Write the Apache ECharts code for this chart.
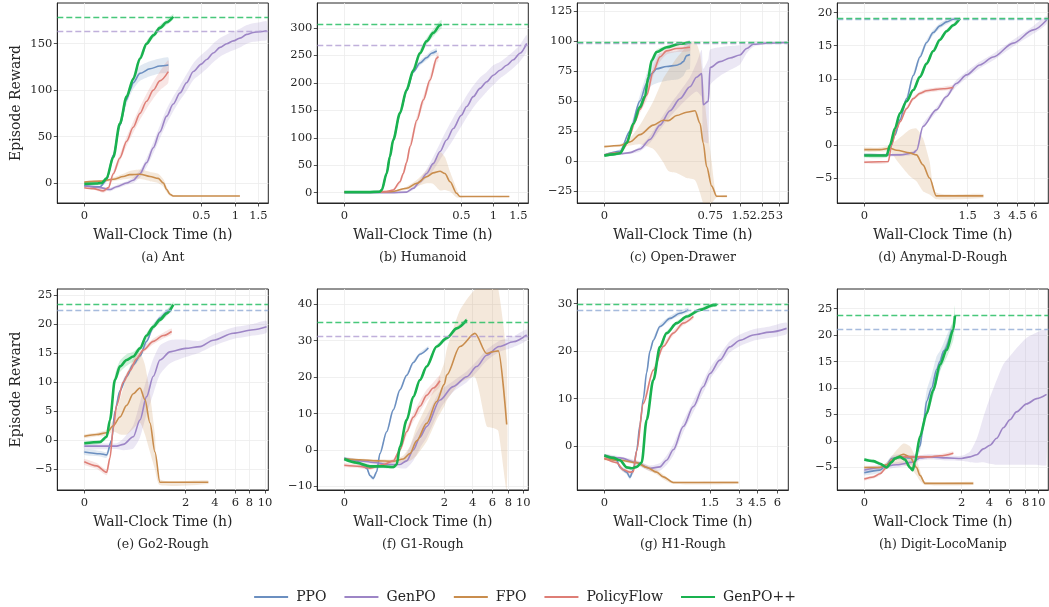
<!DOCTYPE html>
<html><head><meta charset="utf-8">
<script src="https://cdn.jsdelivr.net/npm/echarts@6/dist/echarts.min.js"></script>
<style>html,body{margin:0;padding:0;background:#fff}#c{width:1049px;height:607px}</style>
</head><body><div id="c"></div><script>
// ---------- DATA: [hours, mean reward, band half-width (upper), optional lower half-width] ----------
const methods = ['PPO','GenPO','FPO','PolicyFlow','GenPO++'];
const panelTitles = ['(a) Ant','(b) Humanoid','(c) Open-Drawer','(d) Anymal-D-Rough','(e) Go2-Rough','(f) G1-Rough','(g) H1-Rough','(h) Digit-LocoManip'];

// (a) Ant
const ant_ppo = [[0,-3,1],[0.067,-4,1],[0.095,3,2],[0.124,30,3],[0.152,62,4],[0.181,90,5],[0.195,100,6],[0.209,108,7],[0.238,118,8],[0.281,123,8],[0.323,126,8],[0.359,127,8]];
const ant_genpo = [[0,-3,1],[0.067,-5,1],[0.11,-7,2],[0.138,-4,2],[0.181,0,2],[0.209,3,3],[0.238,10,4],[0.266,22,5],[0.295,38,6],[0.323,55,7],[0.352,72,8],[0.38,85,8],[0.409,97,8],[0.437,108,9],[0.466,120,9],[0.5,128,10],[0.579,133,10],[0.676,140,10],[0.775,146,10],[0.874,150,10],[0.971,153,10],[1.102,156,10],[1.248,160,10],[1.391,162,10],[1.537,163,10],[1.683,164,10]];
const ant_fpo = [[0,1,1],[0.067,2,1],[0.124,4,2],[0.167,7,3],[0.195,9,4],[0.238,9.5,5],[0.281,7,5],[0.316,5,5],[0.338,0,4],[0.352,-7,3],[0.366,-12,2],[0.38,-14,1],[0.5,-14,0.5],[1.1,-14,0.5]];
const ant_pf = [[0,-5,1],[0.038,-6,1],[0.081,-8.5,2],[0.103,-5,2],[0.124,10,3],[0.152,27,4],[0.181,45,5],[0.209,60,6],[0.238,75,7],[0.266,88,8],[0.295,100,9],[0.323,110,10],[0.359,120,12]];
const ant_gpp = [[0,-1,1.5],[0.05,-0.5,1.5],[0.074,0,1.5],[0.095,5,2],[0.124,28,2],[0.152,64,3],[0.181,93,3],[0.209,112,3],[0.238,134,3],[0.266,150,3],[0.295,159,3],[0.323,167,3],[0.352,173,3],[0.38,179,3]];

// (b) Humanoid
const hum_ppo = [[0,1,1],[0.1,1,1],[0.152,2,1],[0.16,5,1],[0.181,35,2],[0.195,66,3],[0.209,96,3],[0.238,145,4],[0.266,185,4],[0.295,220,4],[0.323,236,5],[0.352,246,5],[0.373,254,5],[0.395,258,5]];
const hum_genpo = [[0,0,0.5],[0.2,0,0.5],[0.266,1,1],[0.295,8,3],[0.323,20,5],[0.352,35,8],[0.38,53,12],[0.409,75,15],[0.437,96,18],[0.466,117,20],[0.5,141,20],[0.584,157,20],[0.688,175,20],[0.792,190,20],[0.897,202,18],[1.0,214,18],[1.134,223,15],[1.268,232,15],[1.4,242,15],[1.534,254,15],[1.668,272,15]];
const hum_fpo = [[0,1,0.5],[0.2,2,1],[0.266,8,3],[0.309,17,6],[0.352,29,12],[0.38,36,20],[0.409,39,35],[0.43,35,30],[0.452,20,18],[0.48,-1,8],[0.494,-7,2],[0.6,-7,1],[1.32,-7,1]];
const hum_pf = [[0,1,1],[0.138,1,1],[0.181,2,1],[0.209,5,2],[0.238,20,4],[0.252,35,5],[0.266,55,6],[0.281,84,7],[0.31,132,8],[0.338,169,8],[0.366,205,8],[0.395,245,8],[0.402,248,8]];
const hum_gpp = [[0,1,1],[0.1,1,1],[0.152,2,1],[0.16,5,2],[0.181,35,3],[0.195,66,4],[0.209,96,5],[0.238,145,6],[0.266,187,6],[0.295,223,6],[0.323,254,6],[0.352,276,6],[0.38,291,7],[0.409,305,8],[0.416,307,8]];

// (c) Open-Drawer
const od_ppo = [[0,5,1],[0.111,8,2],[0.182,25,3],[0.252,50,5],[0.3,65,8],[0.335,73,10],[0.37,77,12],[0.441,79,12],[0.512,80,12],[0.535,81,12],[0.559,83,12],[0.582,88,12],[0.606,89,12]];
const od_genpo = [[0,5,0.5],[0.111,6,1],[0.182,7,1],[0.252,10,2],[0.323,18,3],[0.394,30,4],[0.465,42,5],[0.535,52,6],[0.606,62,8],[0.653,70,12],[0.689,73,20],[0.7,47,30],[0.736,50,35],[0.748,78,15],[0.989,83,12],[1.236,86,10],[1.481,88.6,8],[1.708,94,4],[1.938,97.5,2],[2.44,98.5,1],[3.33,99,1]];
const od_fpo = [[0,12,0.5],[0.111,13,1],[0.182,16,3],[0.252,22,8],[0.347,30,20],[0.417,34,35],[0.453,33.7,42],[0.512,38,48],[0.583,40.7,55],[0.642,42,58],[0.677,31.5,58],[0.7,15,50],[0.724,-4.7,40],[0.785,-21,20],[0.908,-29.5,1],[1.16,-29.5,1]];
const od_pf = [[0,5,1],[0.111,7,1],[0.146,12,2],[0.182,22,2],[0.217,33,3],[0.252,43,3],[0.3,55,4],[0.347,75,4],[0.394,87,4],[0.441,92,3],[0.512,94,3],[0.606,95,3]];
const od_gpp = [[0,4.5,1],[0.064,5.5,1],[0.111,6.5,1],[0.158,15,1.5],[0.205,31,2],[0.252,45,2],[0.288,54,2],[0.311,70,2],[0.335,84,2],[0.37,91,2],[0.441,95,1.5],[0.535,98,1],[0.606,99,1]];

// (d) Anymal-D-Rough
const any_ppo = [[0,-1.5,0.2],[0.324,-1.5,0.2],[0.373,-0.5,0.3],[0.445,1.5,0.3],[0.518,3.8,0.4],[0.614,7,0.4],[0.711,10.5,0.4],[0.808,13.3,0.4],[0.905,15.5,0.4],[1.001,17,0.4],[1.098,18,0.4],[1.195,18.6,0.4],[1.292,19,0.3],[1.364,19,0.3]];
const any_genpo = [[0,-1.5,0.2],[0.518,-1.5,0.2],[0.711,-1.2,0.3],[0.76,-0.8,0.3],[0.852,2.8,0.4],[1.045,5.3,0.4],[1.19,7.3,0.4],[1.335,9.3,0.5],[1.485,10.6,0.5],[2.13,12.1,0.5],[2.81,13.3,0.5],[4.2,15.4,0.5],[5.94,17.4,0.6],[7.14,18.9,0.6]];
const any_fpo = [[0,-0.7,0.3],[0.227,-0.7,0.3],[0.373,-0.5,0.5],[0.469,-0.8,1.5],[0.66,-1.2,3.5],[0.757,-1.5,4],[0.852,-3,4],[0.948,-5,2.5],[1.045,-7.7,0.5],[2.3,-7.7,0.3]];
const any_pf = [[0,-2.6,0.2],[0.348,-2.5,0.2],[0.397,0,0.3],[0.469,2.5,0.3],[0.518,3.5,0.3],[0.614,5.5,0.3],[0.711,7,0.3],[0.808,7.8,0.3],[0.905,8.2,0.3],[1.049,8.4,0.3],[1.146,8.5,0.3],[1.292,8.7,0.3]];
const any_gpp = [[0,-1.6,0.3],[0.324,-1.6,0.3],[0.373,0,0.3],[0.445,2.5,0.3],[0.518,4.8,0.3],[0.614,6.6,0.3],[0.711,8.3,0.3],[0.808,10.3,0.3],[0.905,12.3,0.3],[1.001,14.2,0.3],[1.098,15.9,0.3],[1.195,17.2,0.3],[1.292,18.1,0.3],[1.388,19.1,0.3]];

// (e) Go2-Rough
const go2_ppo = [[0,-2,0.5],[0.309,-2.3,0.5],[0.441,-2.5,0.5],[0.539,0,0.5],[0.605,5,0.5],[0.704,8.5,0.5],[0.836,11,0.5],[0.967,13,0.5],[1.099,14.5,0.5],[1.23,17,0.5],[1.362,19.5,0.5],[1.493,21,0.5],[1.625,22,0.5],[1.724,22.5,0.5]];
const go2_genpo = [[0,-1,0.5],[0.638,-1,0.5],[0.77,-0.7,1],[0.967,0.6,2],[1.099,3.5,3],[1.23,7.5,3],[1.362,11,3],[1.493,13.8,2.5],[1.691,15.2,2],[2.0,15.8,1.5],[2.98,16.1,1],[3.88,17.2,1],[5.8,18.4,1],[8.5,19,1],[10.2,19.5,1]];
const go2_fpo = [[0,0.7,0.3],[0.243,1,0.3],[0.441,1.3,0.5],[0.572,2.5,1],[0.704,4,3],[0.836,6,5],[0.967,8,6],[1.099,9,6],[1.197,7,6],[1.296,3,5],[1.395,-2,3],[1.493,-7.2,0.5],[3.54,-7.2,0.3]];
const go2_pf = [[0,-3.7,0.5],[0.243,-4.4,0.5],[0.441,-5.5,0.5],[0.507,-3,0.5],[0.572,2,0.5],[0.638,6,0.5],[0.77,10,0.5],[0.901,12,0.5],[1.033,14,0.5],[1.164,15.5,0.5],[1.362,17,0.5],[1.559,18,0.5],[1.724,18.7,0.5]];
const go2_gpp = [[0,-0.5,0.3],[0.309,-0.3,0.3],[0.441,0.6,0.3],[0.507,3.5,0.5],[0.605,10.4,0.8],[0.704,12.7,1],[0.836,13.8,1],[0.967,14.4,0.8],[1.099,15.8,0.5],[1.23,18,0.5],[1.362,19.5,0.5],[1.493,20.7,0.5],[1.625,21.8,0.5],[1.757,23.3,0.5]];

// (f) G1-Rough
const g1_ppo = [[0,-2.3,0.3],[0.247,-3,0.3],[0.447,-5,0.4],[0.513,-7,0.5],[0.58,-7.8,0.5],[0.647,-6,0.5],[0.713,-1,0.5],[0.847,5,0.5],[0.98,11,0.5],[1.113,16.5,0.5],[1.247,20.5,0.5],[1.38,24,0.5],[1.513,26.3,0.5],[1.68,28,0.5]];
const g1_genpo = [[0,-2.5,0.5],[0.313,-3,0.5],[0.647,-3.5,0.5],[0.847,-4,0.5],[1.113,-4,1],[1.247,-3,2],[1.38,0,3],[1.513,3.5,3],[1.647,6.4,3],[1.913,13.7,2.5],[2.62,17.4,1.5],[3.59,20.1,1.5],[4.42,22.9,1.5],[5.43,26,1.5],[6.84,28.4,1.5],[8.67,29.7,1.5],[10.45,31.6,1.5]];
const g1_fpo = [[0,-2.5,0.3],[0.313,-2.7,0.3],[0.647,-3,0.5],[0.98,-3.1,0.5],[1.18,-2.5,1],[1.313,-1,2],[1.447,2.5,4],[1.647,7.3,5],[1.847,13.3,5],[2.0,18,6],[2.17,20.6,7],[3.11,28.4,10],[4.24,32,12],[5.43,26.5,20],[6.13,27,21],[6.75,27.2,22],[7.8,7,18]];
const g1_pf = [[0,-4.2,0.5],[0.313,-4.5,0.5],[0.513,-5,0.5],[0.78,-4,0.5],[0.98,-3,0.5],[1.113,0,0.8],[1.247,5,1],[1.38,9,1.2],[1.513,12,1.5],[1.647,15,1.5],[1.78,17,1.5],[1.913,19,1.5]];
const g1_gpp = [[0,-2.5,0.5],[0.247,-3.5,0.5],[0.513,-4.5,0.5],[0.78,-4.5,0.5],[0.98,-4.7,0.5],[1.047,-4,0.5],[1.113,0.9,0.5],[1.247,8.2,0.5],[1.38,14.6,0.5],[1.513,19.2,0.5],[1.647,22.9,0.5],[1.847,28.4,0.5],[2.17,30.7,0.5],[2.88,33.4,0.5],[3.59,35.7,0.5]];

// (g) H1-Rough
const h1_ppo = [[0,-2,0.3],[0.175,-3,0.3],[0.222,-4.5,0.4],[0.317,-5.5,0.5],[0.364,-6.6,0.5],[0.412,-5,0.5],[0.459,-1,0.5],[0.506,4.5,0.5],[0.554,10,0.5],[0.601,15.5,0.5],[0.648,20,0.5],[0.696,22.3,0.5],[0.79,25.2,0.5],[0.932,26.9,0.5],[1.074,28,0.5],[1.192,28.7,0.5]];
const h1_genpo = [[0,-2,0.3],[0.222,-2.5,0.3],[0.459,-3.5,0.5],[0.648,-4.7,0.6],[0.79,-4.4,0.8],[0.884,-3,1],[0.979,-0.8,1.2],[1.121,4.1,1.2],[1.263,8.3,1.2],[1.405,12.5,1.2],[1.5,15.3,1.2],[2.0,18.1,1.2],[2.51,20.9,1.2],[3.06,22.3,1.2],[4.17,23.4,1.2],[5.45,24,1.2],[6.7,24.8,1.2]];
const h1_fpo = [[0,-2.7,0.3],[0.222,-3,0.3],[0.459,-3.5,0.4],[0.601,-4.5,0.5],[0.743,-5.5,0.5],[0.837,-6.5,0.5],[0.979,-7.7,0.3],[2.95,-7.7,0.3]];
const h1_pf = [[0,-2.5,0.3],[0.175,-3.5,0.3],[0.27,-5,0.4],[0.364,-5.5,0.5],[0.412,-5.4,0.5],[0.459,-1,0.5],[0.554,9,0.5],[0.696,16,0.5],[0.837,21,0.5],[0.979,23.8,0.5],[1.121,25.9,0.5],[1.263,27.3,0.5]];
const h1_gpp = [[0,-2,0.3],[0.128,-2.5,0.3],[0.222,-3,0.3],[0.317,-4.5,0.3],[0.388,-4.7,0.3],[0.459,-4.4,0.3],[0.53,-3.5,0.3],[0.601,5.5,0.4],[0.696,13.9,0.4],[0.79,20.9,0.4],[0.884,23.8,0.4],[1.027,25.9,0.4],[1.169,27.3,0.4],[1.358,28.7,0.4],[1.67,29.7,0.4],[1.84,29.8,0.4]];

// (h) Digit-LocoManip
const dig_ppo = [[0,-6,0.5],[0.322,-5.5,0.5],[0.459,-4.5,0.5],[0.562,-3.3,0.5],[0.733,-3,0.5],[0.938,-3.2,0.5],[1.041,-3,0.5],[1.144,-1,1],[1.212,3,1.5],[1.281,7.5,2],[1.384,10,2.5],[1.486,13.5,2.5],[1.555,15,2],[1.63,17,1.5],[1.8,21,1]];
const dig_genpo = [[0,-5.5,0.5],[0.322,-5,0.5],[0.664,-4.5,0.5],[1.007,-4,0.5],[1.144,-3.2,0.5],[1.349,-3,0.5],[1.692,-3.2,0.5],[2.0,-3.3,0.5],[2.61,-3,1,1],[3.09,-2.6,3,1.5],[3.57,-1.5,6,2.5],[4.07,-0.8,9,3.5],[4.75,0.5,11,5],[5.43,2.5,12,7],[6.11,4,12,8.5],[6.9,5.5,12,10],[8.17,7,12.5,11.5],[9.75,8,12.5,12.5],[11.3,8.8,12.2,13.3]];
const dig_fpo = [[0,-5,0.3],[0.322,-5,0.3],[0.459,-4.5,0.5],[0.596,-3.5,1],[0.801,-2.5,2],[0.938,-3,2],[1.075,-5,1.5],[1.144,-6.5,1],[1.247,-8,0.3],[2.84,-8,0.3]];
const dig_pf = [[0,-7.2,0.3],[0.185,-6.8,0.3],[0.322,-6.2,0.3],[0.459,-5,0.3],[0.562,-3.5,0.3],[0.733,-3,0.3],[1.0,-3,0.3],[1.35,-3,0.3],[1.555,-2.8,0.3],[1.829,-2.3,0.3]];
const dig_gpp = [[0,-3.5,0.3],[0.185,-3.8,0.3],[0.322,-4.3,0.3],[0.459,-5,0.3],[0.562,-4,0.3],[0.63,-3.3,0.3],[0.733,-3,0.3],[0.836,-3.5,0.3],[0.938,-5,0.3],[0.993,-5.5,0.3],[1.041,-4,0.4],[1.144,0.8,0.6],[1.281,5.2,0.8],[1.418,9.6,1],[1.555,14.4,1.2],[1.692,17.2,1.5],[1.829,21,2],[1.863,23.6,2]];

// reference (final-value) dashed lines per panel: [value, method]
const refLines = [
  [[178.5,'GenPO++'],[163.5,'GenPO']],
  [[306.5,'GenPO++'],[269,'GenPO']],
  [[99.2,'GenPO++'],[98.3,'GenPO']],
  [[19.2,'GenPO++'],[19.0,'PPO']],
  [[23.3,'GenPO++'],[22.3,'PPO']],
  [[35,'GenPO++'],[31.3,'GenPO']],
  [[29.8,'GenPO++'],[28.7,'PPO']],
  [[23.7,'GenPO++'],[21.1,'PPO']]
];

// x tick labels (hours) per panel
const xTickVals = [[0,0.5,1,1.5],[0,0.5,1,1.5],[0,0.75,1.5,2.25,3],[0,1.5,3,4.5,6],[0,2,4,6,8,10],[0,2,4,6,8,10],[0,1.5,3,4.5,6],[0,2,4,6,8,10]];
// y tick labels per panel
const yTickVals = [[0,50,100,150],[0,50,100,150,200,250,300],[-25,0,25,50,75,100,125],[-5,0,5,10,15,20],[-5,0,5,10,15,20,25],[-10,0,10,20,30,40],[0,10,20,30],[-5,0,5,10,15,20,25]];
const yRanges = [[-21.5,193.8],[-18.8,345.5],[-35.1,132],[-8.77,21.46],[-8.54,26.0],[-11,44.2],[-9.27,33.1],[-9.26,28.7]];

// ---------- AXIS SCALE (non-linear time axis, piecewise between tick anchors) ----------
const AXW = 211;
const xTickPos = [[27,144,178,201],[27,144,176,201],[27,133,163.4,185,202],[27,130.3,159.7,180,196.7],[27,128.3,157.7,178,192,207.7],[27,127,155.3,175,191,206],[27,132.7,162,180,200],[27,124.3,152,171.7,188.3,201]];
function scaleOf(vals,pos){return function(h){let i=0;while(i<vals.length-2&&h>vals[i+1])i++;return pos[i]+(h-vals[i])*(pos[i+1]-pos[i])/(vals[i+1]-vals[i]);};}

const panelData = [
  [ant_ppo,ant_genpo,ant_fpo,ant_pf,ant_gpp],
  [hum_ppo,hum_genpo,hum_fpo,hum_pf,hum_gpp],
  [od_ppo,od_genpo,od_fpo,od_pf,od_gpp],
  [any_ppo,any_genpo,any_fpo,any_pf,any_gpp],
  [go2_ppo,go2_genpo,go2_fpo,go2_pf,go2_gpp],
  [g1_ppo,g1_genpo,g1_fpo,g1_pf,g1_gpp],
  [h1_ppo,h1_genpo,h1_fpo,h1_pf,h1_gpp],
  [dig_ppo,dig_genpo,dig_fpo,dig_pf,dig_gpp]
];

// ---------- STYLE ----------
const FONT = '"DejaVu Serif", "Liberation Serif", serif';
const TXT = '#262626';
const colors = {'PPO':'#6b8fc0','GenPO':'#9d85c6','FPO':'#c98d4d','PolicyFlow':'#de7e76','GenPO++':'#19b24f'};
const bandColors = {'PPO':'rgba(107,143,192,0.2)','GenPO':'rgba(157,133,198,0.2)','FPO':'rgba(201,141,77,0.2)','PolicyFlow':'rgba(222,126,118,0.2)','GenPO++':'rgba(25,178,79,0.2)'};
const dashColors = {'GenPO++':'rgba(40,190,100,0.85)','GenPO':'rgba(176,156,210,0.8)','PPO':'rgba(150,175,215,0.85)'};
const fmtNum = v => (v<0?'\u2212':'')+String(Math.abs(v));

const option = {animation:false, backgroundColor:'#fff', grid:[], xAxis:[], yAxis:[], series:[], graphic:[],
  legend:{data:methods, top:585, left:'center', itemWidth:34, itemHeight:12, itemGap:17,
    itemStyle:{opacity:0, borderWidth:0},
    textStyle:{fontFamily:FONT, fontSize:14, color:TXT, padding:[0,0,0,3]}}};

for(let i=0;i<8;i++){
  const row = i<4?0:1, col=i%4;
  const left = 57.3+260*col, top = row?289:3, height = row?201:200;
  option.grid.push({left:left, top:top, width:AXW, height:height, show:true, borderColor:TXT, borderWidth:1, backgroundColor:'transparent'});
  const pos = xTickPos[i], vals = xTickVals[i];
  const sc = scaleOf(vals,pos);
  option.xAxis.push({gridIndex:i, type:'value', min:0, max:AXW,
    axisLine:{show:true,onZero:false,lineStyle:{color:TXT,width:1}},
    axisTick:{show:true,customValues:pos,length:3.5,lineStyle:{color:TXT,width:0.8}},
    axisLabel:{customValues:pos, margin:7, fontFamily:FONT, fontSize:11.5, color:TXT,
      formatter:(v)=>{for(let k=0;k<pos.length;k++){if(Math.abs(v-pos[k])<1e-6)return String(vals[k]);}return '';}},
    splitLine:{show:true,lineStyle:{color:'#ececec',width:0.8}},
    name:'Wall-Clock Time (h)', nameLocation:'middle', nameGap:25,
    nameTextStyle:{fontFamily:FONT,fontSize:14,color:TXT}});
  const yt = yTickVals[i];
  const yAx = {gridIndex:i, type:'value', min:yRanges[i][0], max:yRanges[i][1],
    axisLine:{show:true,onZero:false,lineStyle:{color:TXT,width:1}},
    axisTick:{show:true,customValues:yt,length:3.5,lineStyle:{color:TXT,width:0.8}},
    axisLabel:{customValues:yt, margin:5, fontFamily:FONT, fontSize:11.5, color:TXT, formatter:fmtNum},
    splitLine:{show:true,lineStyle:{color:'#ececec',width:0.8}}};
  if(col===0){ Object.assign(yAx,{name:'Episode Reward', nameLocation:'middle', nameGap:34, nameTextStyle:{fontFamily:FONT,fontSize:14,color:TXT}}); }
  option.yAxis.push(yAx);
  const ymin=yRanges[i][0], ymax=yRanges[i][1];
  const clampY = y=>Math.max(ymin,Math.min(ymax,y));
  // bands
  methods.forEach((m,mi)=>{
    const d = panelData[i][mi];
    option.series.push({type:'custom', xAxisIndex:i, yAxisIndex:i, silent:true, clip:true, z:1, data:[[0,0]],
      renderItem:(params,api)=>{
        const up=[], lo=[];
        d.forEach(p=>{const dn = p.length>3?p[3]:p[2];
          up.push(api.coord([sc(p[0]),clampY(p[1]+p[2])])); lo.push(api.coord([sc(p[0]),clampY(p[1]-dn)]));});
        return {type:'polygon', shape:{points:up.concat(lo.reverse()), smooth:0.2}, style:{fill:bandColors[m], stroke:null}};
      }});
  });
  // lines
  methods.forEach((m,mi)=>{
    const d = panelData[i][mi];
    const s = {type:'line', name:m, xAxisIndex:i, yAxisIndex:i, data:d.map(p=>[sc(p[0]),p[1]]),
      symbol:'none', showSymbol:false, smooth:0.3, smoothMonotone:'x', silent:true,
      lineStyle:{color:colors[m], width:m==='GenPO++'?2.6:1.6}, itemStyle:{color:colors[m]},
      z:m==='GenPO++'?4:3};
    const refs = refLines[i].filter(r=>r[1]===m);
    if(refs.length){
      s.markLine = {symbol:'none', silent:true, label:{show:false},
        lineStyle:{type:[6,3], color:dashColors[m], width:1.3},
        data:refs.map(r=>({yAxis:r[0]}))};
    }
    option.series.push(s);
  });
  option.graphic.push({type:'text', x:left+AXW/2, y:row?545:257.5,
    style:{text:panelTitles[i], font:'12.5px '+FONT, fill:TXT, align:'center', verticalAlign:'middle'}});
}

const chart = echarts.init(document.getElementById('c'), null, {renderer:'canvas'});
chart.setOption(option);
</script></body></html>
